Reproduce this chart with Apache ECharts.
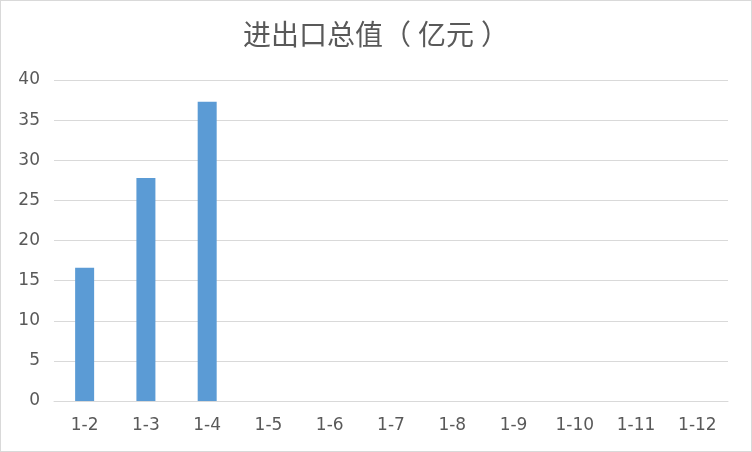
<!DOCTYPE html>
<html>
<head>
<meta charset="utf-8">
<script src="https://cdn.jsdelivr.net/npm/echarts@6/dist/echarts.min.js"></script>
<style>
html,body{margin:0;padding:0;background:#fff;}
#chart{width:752px;height:452px;box-sizing:border-box;border:1px solid #d9d9d9;}
</style>
</head>
<body>
<div id="chart"></div>
<script>
const titleText = '进出口总值（亿元）';
const categories = ['1-2','1-3','1-4','1-5','1-6','1-7','1-8','1-9','1-10','1-11','1-12'];
const values = [16.6, 27.8, 37.3, null, null, null, null, null, null, null, null];
const yMin = 0, yMax = 40, yStep = 5;

const titleFont = {color:'#595959', fontSize:28, fontWeight:'normal', fontFamily:'"Noto Sans CJK SC", sans-serif'};
const richTitle = titleText.replace('（', '{lp|（}').replace('）', '{rp|）}');

const chart = echarts.init(document.getElementById('chart'), null, {renderer:'canvas'});
chart.setOption({
  animation: false,
  backgroundColor: '#fff',
  title: {
    text: richTitle,
    left: 'center',
    top: 14,
    textStyle: Object.assign({}, titleFont, {
      rich: {
        lp: Object.assign({}, titleFont, {padding:[0,7,0,0]}),
        rp: Object.assign({}, titleFont, {padding:[0,0,0,7]})
      }
    })
  },
  grid: {left: 53, right: 23, top: 79, bottom: 50, containLabel: false},
  xAxis: {
    type: 'category',
    data: categories,
    axisLine: {show:true, lineStyle:{color:'#d9d9d9', width:1}},
    axisTick: {show:false},
    axisLabel: {color:'#595959', fontSize:17, fontFamily:'"DejaVu Sans", sans-serif', margin:16, interval:0}
  },
  yAxis: {
    type: 'value',
    min: yMin, max: yMax, interval: yStep,
    axisLine: {show:false},
    axisTick: {show:false},
    splitLine: {lineStyle:{color:'#d9d9d9', width:1}},
    axisLabel: {color:'#595959', fontSize:17, fontFamily:'"DejaVu Sans", sans-serif', margin:14, padding:[5,0,0,0]}
  },
  series: [{
    type: 'bar',
    data: values,
    barWidth: 19,
    itemStyle: {color:'#5b9bd5'}
  }]
});
</script>
</body>
</html>
